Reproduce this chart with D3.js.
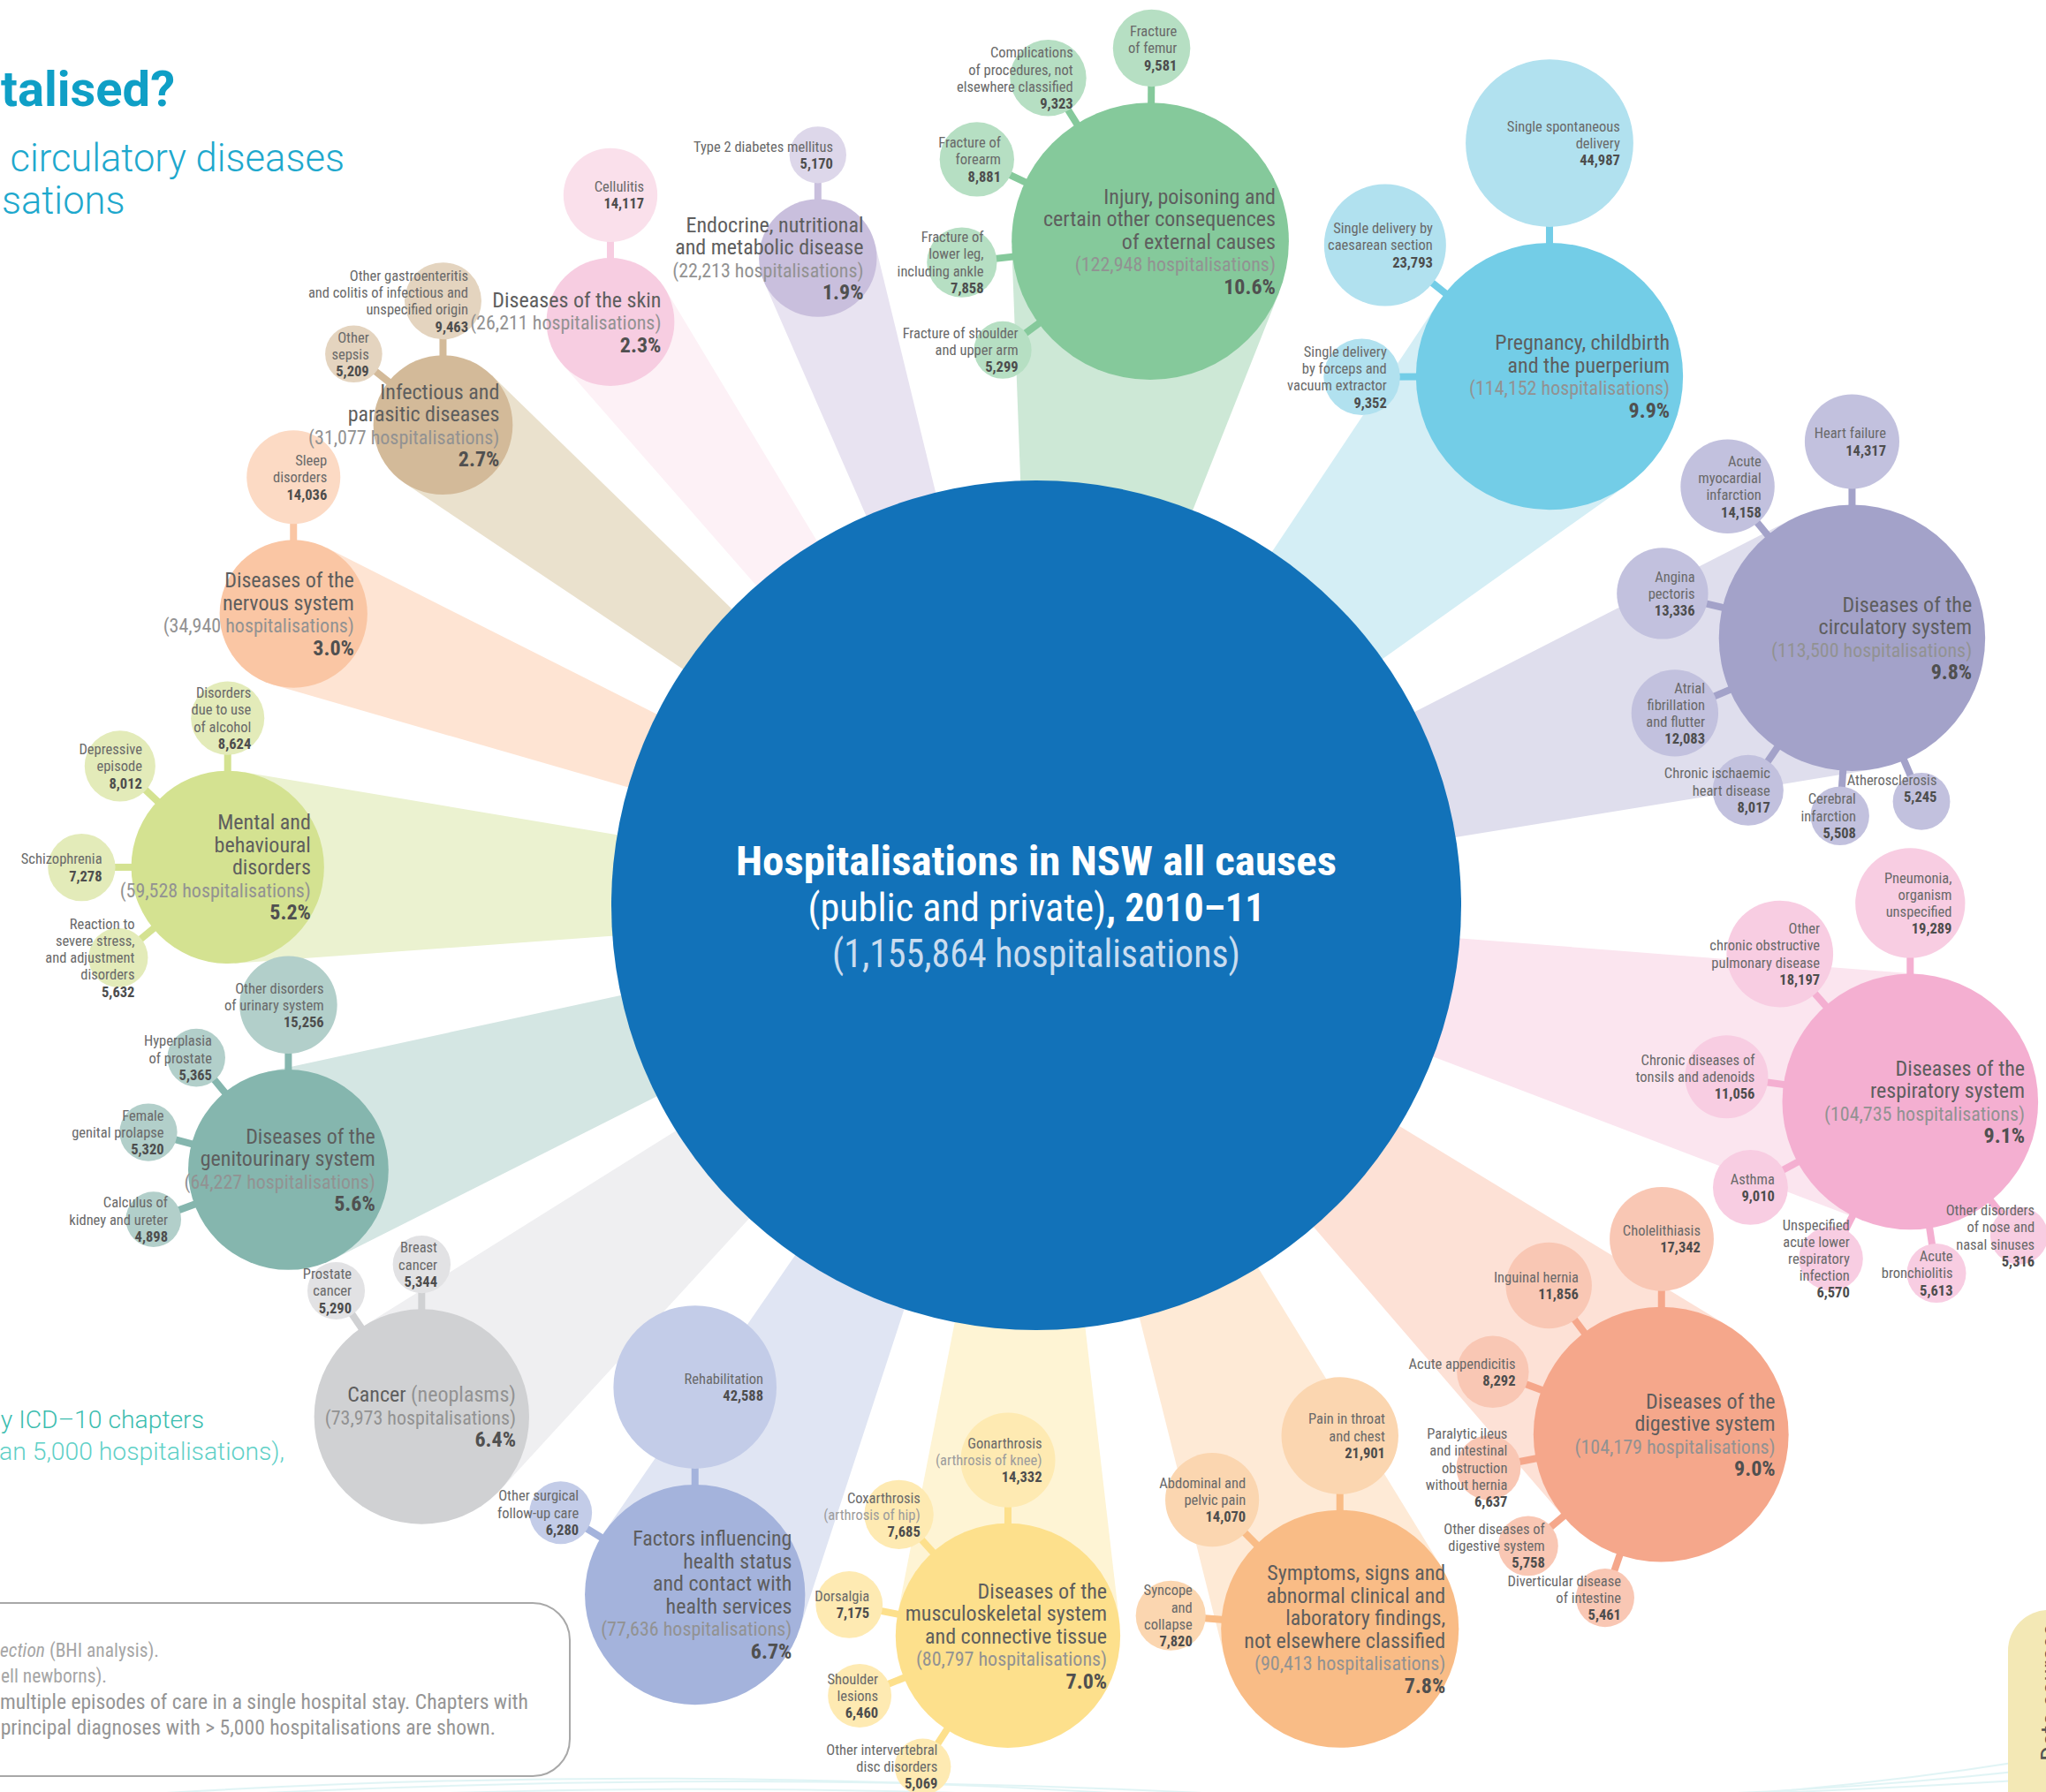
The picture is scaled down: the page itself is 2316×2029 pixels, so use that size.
<!DOCTYPE html>
<html><head><meta charset="utf-8">
<script src="https://cdn.jsdelivr.net/npm/d3@7"></script>
<style>
html,body{margin:0;padding:0;background:#fff;overflow:hidden}
svg{display:block}
text{font-family:"Liberation Sans Narrow","Arial Narrow","Roboto Condensed",sans-serif}
text.wide{font-family:Roboto,"Liberation Sans",sans-serif}
</style></head><body>
<svg id="chart" width="2316" height="2029"></svg>
<script>
// ---------------- DATA ----------------
const TOTAL = 1155864;
const chapterNames = [
  "Injury, poisoning and|certain other consequences|of external causes",
  "Pregnancy, childbirth|and the puerperium",
  "Diseases of the|circulatory system",
  "Diseases of the|respiratory system",
  "Diseases of the|digestive system",
  "Symptoms, signs and|abnormal clinical and|laboratory findings,|not elsewhere classified",
  "Diseases of the|musculoskeletal system|and connective tissue",
  "Factors influencing|health status|and contact with|health services",
  "Cancer (neoplasms)",
  "Diseases of the|genitourinary system",
  "Mental and|behavioural|disorders",
  "Diseases of the|nervous system",
  "Infectious and|parasitic diseases",
  "Diseases of the skin",
  "Endocrine, nutritional|and metabolic disease"
];
const chapterValues = [122948,114152,113500,104735,104179,90413,80797,77636,73973,64227,59528,34940,31077,26211,22213];
const chapterPercents = ["10.6%","9.9%","9.8%","9.1%","9.0%","7.8%","7.0%","6.7%","6.4%","5.6%","5.2%","3.0%","2.7%","2.3%","1.9%"];

const diagChapter = [
  0,0,0,0,0,
  1,1,1,
  2,2,2,2,2,2,2,
  3,3,3,3,3,3,3,
  4,4,4,4,4,4,
  5,5,5,
  6,6,6,6,6,
  7,7,
  8,8,
  9,9,9,9,
  10,10,10,10,
  11,
  12,12,
  13,
  14
];
const diagNames = [
  "Fracture|of femur","Complications|of procedures, not|elsewhere classified","Fracture of|forearm","Fracture of|lower leg,|including ankle","Fracture of shoulder|and upper arm",
  "Single spontaneous|delivery","Single delivery by|caesarean section","Single delivery|by forceps and|vacuum extractor",
  "Heart failure","Acute|myocardial|infarction","Angina|pectoris","Atrial|fibrillation|and flutter","Chronic ischaemic|heart disease","Cerebral|infarction","Atherosclerosis",
  "Pneumonia,|organism|unspecified","Other|chronic obstructive|pulmonary disease","Chronic diseases of|tonsils and adenoids","Asthma","Unspecified|acute lower|respiratory|infection","Acute|bronchiolitis","Other disorders|of nose and|nasal sinuses",
  "Cholelithiasis","Inguinal hernia","Acute appendicitis","Paralytic ileus|and intestinal|obstruction|without hernia","Other diseases of|digestive system","Diverticular disease|of intestine",
  "Pain in throat|and chest","Abdominal and|pelvic pain","Syncope|and|collapse",
  "Gonarthrosis|(arthrosis of knee)","Coxarthrosis|(arthrosis of hip)","Dorsalgia","Shoulder|lesions","Other intervertebral|disc disorders",
  "Rehabilitation","Other surgical|follow-up care",
  "Breast|cancer","Prostate|cancer",
  "Other disorders|of urinary system","Hyperplasia|of prostate","Female|genital prolapse","Calculus of|kidney and ureter",
  "Disorders|due to use|of alcohol","Depressive|episode","Schizophrenia","Reaction to|severe stress,|and adjustment|disorders",
  "Sleep|disorders",
  "Other gastroenteritis|and colitis of infectious and|unspecified origin","Other|sepsis",
  "Cellulitis",
  "Type 2 diabetes mellitus"
];
const diagValues = [
  9581,9323,8881,7858,5299,
  44987,23793,9352,
  14317,14158,13336,12083,8017,5508,5245,
  19289,18197,11056,9010,6570,5613,5316,
  17342,11856,8292,6637,5758,5461,
  21901,14070,7820,
  14332,7685,7175,6460,5069,
  42588,6280,
  5344,5290,
  15256,5365,5320,4898,
  8624,8012,7278,5632,
  14036,
  9463,5209,
  14117,
  5170
];

// ---------------- LAYOUT (positions) ----------------
const chapterAngle = [9.74,44.13,71.85,102.67,130.27,157.24,182.22,206.33,230.23,250.52,272.7,291.43,309.0,323.88,341.36];
const chapterDist  = [762.8,834.4,971.8,1014,926.9,888.5,827.5,870.9,905.1,898,916.3,903.2,864.1,817.7,773.4];
const diagAngle = [
  0.4,328,295.3,263.6,233.6,
  0,308.6,269.8,
  0,320.6,283.2,247,214.3,183.9,157,
  0,318.6,277.7,241.8,206.8,171.3,140.9,
  0.2,323,290.4,259.1,230,198.9,
  0,315.3,274.5,
  0,318,281,247.9,213,
  0,301.4,
  0,325.8,
  0,320.6,285,249.8,
  0,313.2,269.9,230.4,
  0,
  0,308.5,
  0,
  0
];
const diagLabelDy = {14:-15};

// ---------------- STYLES ----------------
const mainColors  = ["#85c99b","#73cde7","#a3a2c9","#f4afd1","#f5a78b","#f9bc86","#fde08c","#a4b3dc","#d0d1d3","#85b6ae","#d4e291","#fac6a4","#d3ba99","#f7cde1","#c9bfdd"];
const childColors = ["#b6dfc3","#b1e1ef","#c2c1de","#f8cde2","#f9c7b4","#fbd6b0","#feeab2","#c3cce8","#e2e2e4","#b2cfca","#e3ebb9","#fcdac4","#e4d4bf","#fae0eb","#ddd7ea"];
const beamColors  = ["#cde8d6","#d4eef5","#dfdeed","#fbe5ef","#fde1d6","#feead6","#fef4d4","#e0e5f3","#efeff1","#d4e6e3","#ebf2d0","#fee4d3","#eae1cd","#fdf1f6","#e8e3f1"];

const W=2316,H=2029;
const svg=d3.select("#chart");
const C={x:1173,y:1025};
const rScale=d3.scaleSqrt().domain([0,TOTAL]).range([0,481]);
const GAP=18;
const rad=a=>a*Math.PI/180;
const polar=(o,ang,dist)=>({x:o.x+dist*Math.sin(rad(ang)), y:o.y-dist*Math.cos(rad(ang))});
const fmt=d3.format(",");

const chapters=chapterNames.map((n,i)=>{
  const p=polar(C,chapterAngle[i],chapterDist[i]);
  return {i,name:n,value:chapterValues[i],pct:chapterPercents[i],x:p.x,y:p.y,r:rScale(chapterValues[i]),ang:chapterAngle[i],dist:chapterDist[i]};
});
const diags=diagNames.map((n,j)=>{
  const par=chapters[diagChapter[j]];
  const r=rScale(diagValues[j]);
  const p=polar(par,diagAngle[j],par.r+r+GAP);
  return {j,name:n,value:diagValues[j],x:p.x,y:p.y,r,par};
});

// decorative swirl
const deco=svg.append("g").attr("fill","none").attr("stroke","#cdeef0").attr("stroke-width",2).attr("opacity",0.6);
[[2045,1985,2040],[2050,1995,2032],[2060,2000,2045]].forEach((v,k)=>{
  const p=d3.path(); p.moveTo(-20,v[0]); p.quadraticCurveTo(700,v[1],1400,v[2]); p.quadraticCurveTo(1900,2060-k*10,2316,1990+k*12);
  deco.append("path").attr("d",p.toString());
});

// beams
const beamG=svg.append("g");
chapters.forEach(c=>{
  const h=Math.asin(c.r/c.dist)*180/Math.PI;
  const L=Math.sqrt(c.dist*c.dist-c.r*c.r);
  const t1=polar(C,c.ang-h,L), t2=polar(C,c.ang+h,L);
  beamG.append("path").attr("d",d3.line()([[C.x,C.y],[t1.x,t1.y],[c.x,c.y],[t2.x,t2.y]])+"Z").attr("fill",beamColors[c.i]);
});

// stems
svg.append("g").selectAll("line").data(diags).join("line")
  .attr("x1",d=>d.x).attr("y1",d=>d.y).attr("x2",d=>d.par.x).attr("y2",d=>d.par.y)
  .attr("stroke",d=>mainColors[d.par.i]).attr("stroke-width",8);

// circles
svg.append("g").selectAll("circle").data(diags).join("circle")
  .attr("cx",d=>d.x).attr("cy",d=>d.y).attr("r",d=>d.r).attr("fill",d=>childColors[d.par.i]);
svg.append("g").selectAll("circle").data(chapters).join("circle")
  .attr("cx",d=>d.x).attr("cy",d=>d.y).attr("r",d=>d.r).attr("fill",d=>mainColors[d.i]);
svg.append("circle").attr("cx",C.x).attr("cy",C.y).attr("r",rScale(TOTAL)).attr("fill","#1272b9");

// labels
function drawLabel(g,lines,xr,ymid,fs,lh){
  const n=lines.length;
  lines.forEach((ln,k)=>{
    const y=ymid+(k-(n-1)/2)*lh+fs*0.36;
    const t=g.append("text").attr("x",xr).attr("y",y).attr("text-anchor","end").attr("font-size",ln.fs||fs);
    if(ln.bold){t.attr("font-weight","bold").attr("fill",ln.fill).text(ln.text);return;}
    const parts=ln.text.split(/(\([^)]*\))/).filter(s=>s.length);
    parts.forEach(s=>{
      t.append("tspan").attr("fill",s.startsWith("(")?ln.light:ln.fill).text(s);
    });
  });
}
const labG=svg.append("g");
chapters.forEach(c=>{
  const lines=c.name.split("|").map(s=>({text:s,fill:"#5e5e5e",light:"#929292"}));
  lines.push({text:"("+fmt(c.value)+" hospitalisations)",fill:"#929292",light:"#929292",fs:22});
  lines.push({text:c.pct,bold:true,fill:"#505050"});
  drawLabel(labG,lines,c.x+c.r-15,c.y,24,25.5);
});
diags.forEach(d=>{
  const lines=d.name.split("|").map(s=>({text:s,fill:"#696969",light:"#9c9c9c"}));
  lines.push({text:fmt(d.value),bold:true,fill:"#4d4d4d"});
  drawLabel(labG,lines,d.x+d.r-15,d.y+(diagLabelDy[d.j]||0),16.5,19.2);
});

// central title
const ct=svg.append("g").attr("text-anchor","middle").attr("fill","#fff");
ct.append("text").attr("x",C.x).attr("y",991).attr("font-size",47).attr("font-weight","bold")
  .attr("textLength",680).attr("lengthAdjust","spacingAndGlyphs").text("Hospitalisations in NSW all causes");
const l2=ct.append("text").attr("x",C.x).attr("y",1043).attr("font-size",45).attr("textLength",517).attr("lengthAdjust","spacingAndGlyphs");
l2.append("tspan").text("(public and private)");
l2.append("tspan").attr("font-weight","bold").text(", 2010–11");
ct.append("text").attr("x",C.x).attr("y",1095).attr("font-size",44).attr("fill","#c9dcef")
  .attr("textLength",462).attr("lengthAdjust","spacingAndGlyphs").text("("+fmt(TOTAL)+" hospitalisations)");

// page texts (only the parts visible on this crop of the page)
svg.append("text").attr("class","wide").attr("x",198).attr("y",120).attr("text-anchor","end").attr("font-size",56).attr("font-weight","bold").attr("fill","#0f9fc6").text("talised?");
svg.append("text").attr("class","wide").attr("x",390).attr("y",194).attr("text-anchor","end").attr("font-size",43.5).attr("font-weight",300).attr("fill","#1ea8cd").text("circulatory diseases");
svg.append("text").attr("class","wide").attr("x",2).attr("y",242).attr("text-anchor","start").attr("font-size",43.5).attr("font-weight",300).attr("fill","#1ea8cd").text("sations");
svg.append("text").attr("class","wide").attr("x",231).attr("y",1617).attr("text-anchor","end").attr("font-size",28.3).attr("font-weight",300).attr("fill","#3cbdaf").text("y ICD–10 chapters");
svg.append("text").attr("class","wide").attr("x",322).attr("y",1653).attr("text-anchor","end").attr("font-size",28.3).attr("font-weight",300).attr("fill","#5fd0c7").text("an 5,000 hospitalisations),");

// note box
svg.append("rect").attr("x",-60).attr("y",1815).attr("width",705).attr("height",196).attr("rx",42)
  .attr("fill","none").attr("stroke","#a8a8a8").attr("stroke-width",2);
const nb=svg.append("g").attr("text-anchor","end");
const n1=nb.append("text").attr("x",180).attr("y",1876).attr("font-size",21.5).attr("fill","#a6a6a6");
n1.append("tspan").attr("font-style","italic").text("ection");
n1.append("tspan").text(" (BHI analysis).");
nb.append("text").attr("x",121).attr("y",1905).attr("font-size",21.5).attr("fill","#a6a6a6").text("ell newborns).");
nb.append("text").attr("x",598).attr("y",1935).attr("font-size",23.6).attr("fill","#959595").text("multiple episodes of care in a single hospital stay. Chapters with");
nb.append("text").attr("x",561).attr("y",1964).attr("font-size",23.6).attr("fill","#959595").text("principal diagnoses with > 5,000 hospitalisations are shown.");

// right yellow box
svg.append("rect").attr("x",2273).attr("y",1823).attr("width",200).attr("height",300).attr("rx",46).attr("fill","#f3e8b5");
svg.append("text").attr("transform","translate(2331,1994) rotate(-90)").attr("font-size",30).attr("fill","#555").text("Data sources");
</script>
</body></html>
